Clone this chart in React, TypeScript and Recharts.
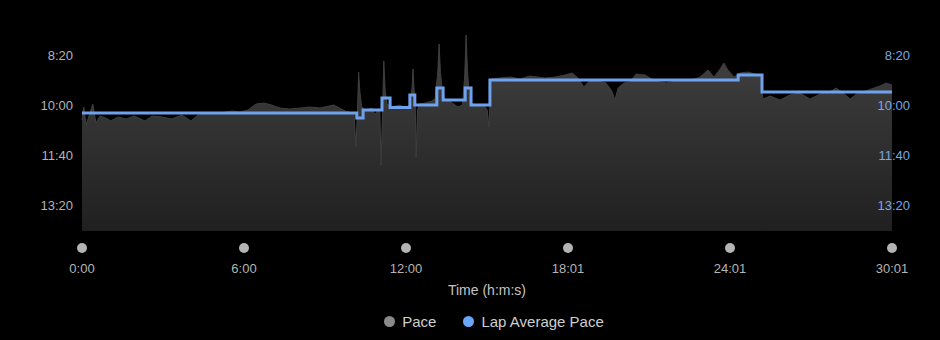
import { Area, ComposedChart, Legend, Line, XAxis, YAxis, Label } from "recharts"

// elapsed time (s) and pace (s per km) samples
const paceTime = [
    0, 4, 9, 24, 31, 40, 53, 64, 80, 98, 116, 140, 156, 178, 200, 222, 242, 258, 285, 307,
    334, 351, 369, 387, 405, 422, 440, 462, 485, 507, 529, 560, 585, 600,
    605, 609, 612, 615, 618, 622, 631, 645, 651, 658, 662, 665, 668, 671, 674, 678, 689, 707, 720, 730,
    734, 736, 738, 741, 743, 746, 750, 763, 778, 785, 791, 794, 797, 803, 807, 823, 836, 846, 851, 854,
    857, 862, 867, 881, 894, 901, 905, 909,
    929, 952, 974, 996, 1029, 1052, 1074, 1090, 1103, 1116, 1130, 1147, 1165, 1178, 1185, 1192,
    1205, 1218, 1232, 1252, 1267, 1285, 1299, 1319, 1341, 1363, 1374, 1392, 1405, 1419, 1427,
    1436, 1450, 1463, 1481, 1496, 1508, 1514,
    1530, 1552, 1574, 1596, 1619, 1641, 1663, 1676, 1690, 1708, 1725, 1743, 1761, 1774, 1788, 1801,
]
const paceValue = [
    630, 604, 640, 598, 636, 622, 626, 632, 624, 628, 622, 632, 622, 624, 628, 620, 632, 620, 618, 616,
    612, 614, 610, 598, 596, 600, 606, 608, 606, 604, 606, 600, 612, 616,
    618, 684, 625, 534, 575, 604, 610, 606, 620, 610, 614, 720, 622, 512, 570, 598, 604, 600, 606, 598,
    565, 528, 565, 600, 705, 610, 598, 596, 592, 588, 535, 478, 535, 586, 588, 596, 604, 600, 540, 460,
    530, 590, 596, 604, 600, 610, 644, 548,
    546, 544, 548, 542, 546, 544, 540, 536, 546, 564, 550, 552, 556, 572, 590, 566,
    556, 554, 538, 540, 548, 554, 556, 552, 550, 548, 544, 530, 544, 528, 516,
    530, 544, 536, 534, 538, 542, 588,
    582, 590, 580, 576, 588, 578, 574, 566, 574, 588, 576, 572, 566, 562, 556, 560,
]

// lap start times (s) and lap average pace
const lapStart = [0, 611, 625, 667, 685, 729, 740, 789, 803, 852, 865, 907, 1459, 1512, 1801]
const lapPace = [616, 626, 610, 586, 605, 580, 600, 566, 590, 566, 600, 550, 540, 574, 574]

const xTicks = [0, 360.2, 720.4, 1080.6, 1440.8, 1801]
const xTickLabels = ["0:00", "6:00", "12:00", "18:01", "24:01", "30:01"]
const yTicks = [500, 600, 700, 800]

const paceData = paceTime.map((t, i) => ({ t, pace: paceValue[i] }))
const lapData = lapStart.map((t, i) => ({ t, lap: lapPace[i] }))

const fmtPace = (v: number) => {
    const m = Math.floor(v / 60)
    const s = Math.round(v % 60)
    return `${m}:${s < 10 ? "0" : ""}${s}`
}

const FONT = "'Liberation Sans', Arial, Helvetica, sans-serif"

function XTick({ x, y, payload, index }: any) {
    return (
        <g>
            <circle cx={x} cy={y + 17} r={5} fill="#b4b4b4" />
            <text x={x} y={y + 37} dy="0.355em" textAnchor="middle" fill="#b4b4b4" fontSize={13} fontFamily={FONT}>
                {xTickLabels[index] ?? payload.value}
            </text>
        </g>
    )
}

function RightTick({ x, y, payload }: any) {
    return (
        <text x={x + 18} y={y} dy="0.355em" textAnchor="end" fill="#7aa6e6" fontSize={13} fontFamily={FONT}>
            {fmtPace(payload.value)}
        </text>
    )
}

function LegendContent() {
    const item = (color: string, label: string) => (
        <div style={{ display: "flex", alignItems: "center", marginRight: label === "Pace" ? 27 : 0 }}>
            <span style={{ width: 11, height: 11, borderRadius: "50%", background: color, marginRight: 7 }} />
            <span style={{ color: "#cfcfcf", fontSize: 15 }}>{label}</span>
        </div>
    )
    return (
        <div style={{ height: 43, display: "flex", justifyContent: "center", alignItems: "center", paddingLeft: 48, paddingTop: 5, boxSizing: "border-box", fontFamily: FONT }}>
            {item("#8a8a8a", "Pace")}
            {item("#6aa6f8", "Lap Average Pace")}
        </div>
    )
}

export default function App() {
    return (
        <div style={{ position: "absolute", left: 0, top: 0, width: 940, height: 340, background: "#000" }}>
            <ComposedChart width={940} height={340} margin={{ top: 30, right: 0, left: 0, bottom: 0 }}>
                <defs>
                    <linearGradient id="paceFill" x1="0" y1="0" x2="0" y2="1">
                        <stop offset="0%" stopColor="#454545" />
                        <stop offset="35%" stopColor="#363636" />
                        <stop offset="100%" stopColor="#202020" />
                    </linearGradient>
                </defs>
                <XAxis
                    dataKey="t"
                    type="number"
                    domain={[0, 1801]}
                    ticks={xTicks}
                    interval={0}
                    axisLine={false}
                    tickLine={false}
                    tickSize={0}
                    tickMargin={0}
                    height={66}
                    tick={<XTick />}
                >
                    <Label
                        content={({ viewBox }: any) => (
                            <text
                                x={viewBox.x + viewBox.width / 2}
                                y={viewBox.y + 59}
                                dy="0.355em"
                                textAnchor="middle"
                                fill="#c4c4c4"
                                fontSize={14}
                                fontFamily={FONT}
                            >
                                Time (h:m:s)
                            </text>
                        )}
                    />
                </XAxis>
                <YAxis
                    yAxisId="left"
                    type="number"
                    domain={[450, 852]}
                    allowDataOverflow
                    reversed
                    ticks={yTicks}
                    width={82}
                    axisLine={false}
                    tickLine={false}
                    tickSize={0}
                    tickMargin={9}
                    tickFormatter={fmtPace}
                    tick={{ fill: "#b4b4b4", fontSize: 13, fontFamily: FONT }}
                />
                <YAxis
                    yAxisId="right"
                    orientation="right"
                    type="number"
                    domain={[450, 852]}
                    allowDataOverflow
                    reversed
                    ticks={yTicks}
                    width={48}
                    axisLine={false}
                    tickLine={false}
                    tickSize={0}
                    tickMargin={0}
                    tick={<RightTick />}
                />
                <Legend verticalAlign="bottom" content={<LegendContent />} />
                <Area
                    yAxisId="left"
                    data={paceData}
                    dataKey="pace"
                    type="linear"
                    baseValue="dataMax"
                    fill="url(#paceFill)"
                    fillOpacity={1}
                    stroke="#3e3e3e"
                    strokeWidth={1}
                    isAnimationActive={false}
                />
                <Line
                    yAxisId="left"
                    data={lapData}
                    dataKey="lap"
                    type="stepAfter"
                    stroke="#6ea2ee"
                    strokeWidth={3}
                    dot={false}
                    activeDot={false}
                    isAnimationActive={false}
                />
            </ComposedChart>
        </div>
    )
}
